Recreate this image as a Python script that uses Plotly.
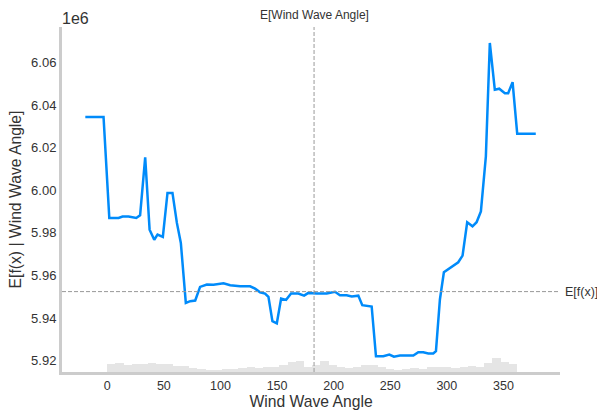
import numpy as np
import plotly.graph_objects as go

# Partial dependence of the model output on wind wave angle (output in units of 1e6)
wave_angle = [-19.4, -3.3, 1.8, 10, 13.5, 18.8, 25.6, 29, 33.5, 37.4, 41.5, 44.4, 49.1,
              53.2, 57.6, 61.5, 65, 69.4, 73.3, 77.7, 82, 88, 93.8, 102.7, 108.6, 117.4,
              126.2, 130.6, 135, 139.4, 142.4, 145.9, 149.8, 153.6, 158, 162.4, 168.8,
              173.9, 177.7, 185, 193.9, 201.2, 205.6, 211.5, 216, 221.8, 225.3, 233.6,
              237.4, 243.9, 249.2, 253.3, 258.6, 270.4, 274.8, 279.2, 283.6, 288, 290.4,
              293.9, 297.4, 304.2, 310.1, 313.9, 318, 322.7, 326.3, 330.1, 334.5, 338,
              342.4, 346.3, 351.3, 354.2, 358.1, 362.2, 378.6]
expected_output = [6.0345, 6.0345, 5.9870, 5.9870, 5.9877, 5.9877, 5.9870, 5.9883, 6.0155,
                   5.9815, 5.9768, 5.9792, 5.9781, 5.9988, 5.9988, 5.9847, 5.9753, 5.9471,
                   5.9479, 5.9482, 5.9546, 5.9557, 5.9556, 5.9563, 5.9554, 5.9549, 5.9549,
                   5.9538, 5.9521, 5.9515, 5.9499, 5.9385, 5.9375, 5.9491, 5.9485, 5.9515,
                   5.9515, 5.9505, 5.9518, 5.9515, 5.9515, 5.9523, 5.9507, 5.9507, 5.9501,
                   5.9505, 5.9460, 5.9454, 5.9220, 5.9220, 5.9228, 5.9218, 5.9223, 5.9223,
                   5.9239, 5.9239, 5.9233, 5.9233, 5.9244, 5.9487, 5.9615, 5.9640, 5.9662,
                   5.9693, 5.9850, 5.9831, 5.9850, 5.9901, 6.0160, 6.0693, 6.0473, 6.0478,
                   6.0457, 6.0457, 6.0509, 6.0266, 6.0266]

# Distribution of the feature (50 bins)
hist_lo, hist_hi = 0.0, 362.0
hist_counts = [80, 90, 70, 80, 80, 90, 85, 80, 60, 60, 45, 30, 25, 25, 30, 35, 45, 50, 45, 50,
               55, 70, 100, 110, 50, 70, 110, 70, 47, 37, 53, 67, 67, 53, 27, 20, 27, 37, 27, 53,
               47, 53, 40, 53, 60, 53, 93, 140, 103, 77]

mean_angle = 182.7      # E[Wind Wave Angle]
mean_output = 5.9524    # E[f(x)], units of 1e6

x_ticks = [0, 50, 100, 150, 200, 250, 300, 350]
y_ticks = [5.92, 5.94, 5.96, 5.98, 6.00, 6.02, 6.04, 6.06]

FONT = "Liberation Sans, Arial, sans-serif"
TXT = "#333333"

edges = np.linspace(hist_lo, hist_hi, len(hist_counts) + 1)
centers = (edges[:-1] + edges[1:]) / 2
width = edges[1] - edges[0]

fig = go.Figure()
fig.add_trace(go.Bar(x=centers, y=hist_counts, width=width, yaxis="y2",
                     marker=dict(color="rgba(0,0,0,0.1)", line=dict(width=0)),
                     hoverinfo="skip", showlegend=False))
fig.add_trace(go.Scatter(x=wave_angle, y=expected_output, mode="lines",
                         line=dict(color="#008bfa", width=2.5), showlegend=False))

fig.add_shape(type="line", xref="x", yref="paper", x0=mean_angle, x1=mean_angle, y0=0, y1=1,
              line=dict(color="#999999", width=1, dash="4px,2px"))
fig.add_shape(type="line", xref="paper", yref="y", x0=0, x1=1, y0=mean_output, y1=mean_output,
              line=dict(color="#999999", width=1, dash="4px,2px"))

fig.add_annotation(x=mean_angle, xref="x", y=1, yref="paper", yanchor="bottom", yshift=3,
                   text="E[Wind Wave Angle]", showarrow=False,
                   font=dict(family=FONT, size=12, color=TXT))
fig.add_annotation(x=1, xref="paper", y=mean_output, yref="y", xanchor="left", xshift=3,
                   text="E[f(x)]", showarrow=False, font=dict(family=FONT, size=12.5, color=TXT))
fig.add_annotation(x=0, xref="paper", y=1, yref="paper", xanchor="left", yanchor="bottom",
                   xshift=-2, yshift=-2,
                   text="1e6", showarrow=False, font=dict(family=FONT, size=16, color=TXT))

fig.update_layout(
    width=597, height=412,
    margin=dict(l=62, r=37, t=27, b=40),
    paper_bgcolor="white", plot_bgcolor="white",
    bargap=0,
    xaxis=dict(range=[-40, 400], tickvals=x_ticks, showgrid=False, zeroline=False,
               showline=True, linecolor="#cccccc", linewidth=3, ticks="", automargin=False,
               tickfont=dict(family=FONT, size=12.5, color=TXT),
               title=dict(text="Wind Wave Angle", font=dict(family=FONT, size=15.7, color=TXT),
                          standoff=4)),
    yaxis=dict(range=[5.9146, 6.0768], tickvals=y_ticks,
               ticktext=[f"{v:.2f}" for v in y_ticks], showgrid=False, zeroline=False,
               showline=True, linecolor="#cccccc", linewidth=3, ticks="", automargin=False,
               tickfont=dict(family=FONT, size=13, color=TXT),
               title=dict(text="E[f(x) | Wind Wave Angle]",
                          font=dict(family=FONT, size=15.7, color=TXT), standoff=6)),
    yaxis2=dict(overlaying="y", range=[0, 3450], visible=False),
)

fig.write_html("out.html")
